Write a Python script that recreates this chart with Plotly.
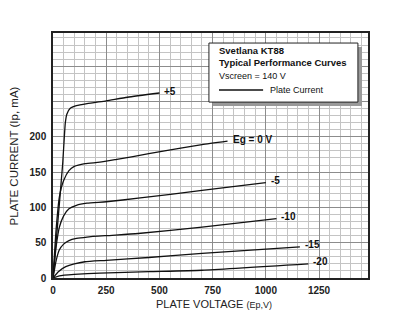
import plotly.graph_objects as go

# Data (plate voltage V, plate current mA)
v_p5 = [0, 20, 45, 58, 65, 80, 110, 160, 250, 350, 500]
i_p5 = [0, 70, 160, 220, 232, 240, 244, 247, 251, 256, 262]

v_0 = [0, 15, 30, 50, 75, 100, 150, 220, 300, 450, 600, 700, 820]
i_0 = [0, 70, 115, 138, 152, 158, 162, 164, 168, 176, 184, 189, 194]

v_m5 = [0, 15, 30, 50, 75, 110, 160, 250, 400, 700, 1000]
i_m5 = [0, 45, 72, 88, 98, 103, 106, 108, 113, 124, 135]

v_m10 = [0, 15, 30, 50, 75, 110, 160, 250, 400, 700, 1050]
i_m10 = [0, 25, 40, 48, 53, 56, 58, 60, 63, 72, 84]

v_m15 = [0, 25, 60, 100, 150, 250, 450, 700, 1160]
i_m15 = [0, 9, 16, 20, 23, 25, 29, 35, 44]

v_m20 = [0, 30, 100, 220, 450, 700, 1200]
i_m20 = [0, 3, 5, 7, 9, 11, 20]

curves = [
    (v_p5, i_p5, "+5"),
    (v_0, i_0, "Eg = 0 V"),
    (v_m5, i_m5, "-5"),
    (v_m10, i_m10, "-10"),
    (v_m15, i_m15, "-15"),
    (v_m20, i_m20, "-20"),
]

x_ticks = [0, 250, 500, 750, 1000, 1250]
y_ticks = [0, 50, 100, 150, 200, 250, 300]
y_ticktext = ["0", "50", "100", "150", "200", "", ""]

fig = go.Figure()
for v, i, name in curves:
    fig.add_trace(go.Scatter(x=v, y=i, mode="lines", line=dict(color="#111", width=1.3, shape="spline", smoothing=0.5),
                             showlegend=False, hoverinfo="skip"))
    fig.add_annotation(x=v[-1], y=i[-1], text="<b>%s</b>" % name, showarrow=False, xanchor="left", yanchor="middle",
                       xshift=3, yshift=2, font=dict(family="Liberation Sans, Arial", size=10, color="#111"))

# legend box with shadow
fig.add_shape(type="rect", xref="paper", yref="paper", x0=0.508, x1=0.981, y0=0.702, y1=0.943,
              fillcolor="#9a9a9a", line=dict(width=0), layer="above")
fig.add_shape(type="rect", xref="paper", yref="paper", x0=0.495, x1=0.968, y0=0.718, y1=0.959,
              fillcolor="white", line=dict(color="#222", width=1), layer="above")
fig.add_shape(type="line", xref="paper", yref="paper", x0=0.527, x1=0.667, y0=0.767, y1=0.767,
              line=dict(color="#111", width=1.5), layer="above")
box_font = dict(family="Liberation Sans, Arial", size=9, color="#111")
fig.add_annotation(xref="paper", yref="paper", x=0.522, y=0.876,
                   text="<b>Svetlana KT88<br>Typical Performance Curves</b><br><span style='font-size:9px'>Vscreen = 140 V</span>",
                   showarrow=False, xanchor="left", yanchor="middle", align="left",
                   font=dict(family="Liberation Sans, Arial", size=9.5, color="#111"))
fig.add_annotation(xref="paper", yref="paper", x=0.683, y=0.767, text="Plate Current", showarrow=False,
                   xanchor="left", yanchor="middle", font=box_font)

# axis titles
fig.add_annotation(xref="paper", yref="paper", x=0.51, y=-0.105,
                   text="PLATE VOLTAGE <span style='font-size:9px'>(Ep,V)</span>", showarrow=False,
                   xanchor="center", yanchor="middle", font=dict(family="Liberation Sans, Arial", size=11, color="#222"))
fig.add_annotation(xref="paper", yref="paper", x=-0.124, y=0.5, text="PLATE CURRENT (Ip, mA)", textangle=-90,
                   showarrow=False, xanchor="center", yanchor="middle",
                   font=dict(family="Liberation Sans, Arial", size=11.5, color="#222"))

tick_font = dict(family="Liberation Sans, Arial", size=10, color="#222", weight="bold")
fig.update_xaxes(range=[0, 1480], tickvals=x_ticks, tickfont=tick_font, showgrid=True, gridcolor="#8c8c8c", gridwidth=1,
                 minor=dict(dtick=50, tick0=0, showgrid=True, gridcolor="#c4c4c4", gridwidth=1),
                 showline=True, linecolor="#222", linewidth=1.5, mirror=True, zeroline=False, ticks="",
                 ticklabelstandoff=2)
fig.update_yaxes(range=[0, 347], tickvals=y_ticks, ticktext=y_ticktext, tickfont=tick_font, showgrid=True,
                 gridcolor="#8c8c8c", gridwidth=1,
                 minor=dict(dtick=10, tick0=0, showgrid=True, gridcolor="#c4c4c4", gridwidth=1),
                 showline=True, linecolor="#222", linewidth=1.5, mirror=True, zeroline=False, ticks="",
                 ticklabelstandoff=3)
fig.update_layout(width=400, height=334, margin=dict(l=53, r=32, t=33, b=56),
                  plot_bgcolor="white", paper_bgcolor="white")
fig.write_html("out.html")
